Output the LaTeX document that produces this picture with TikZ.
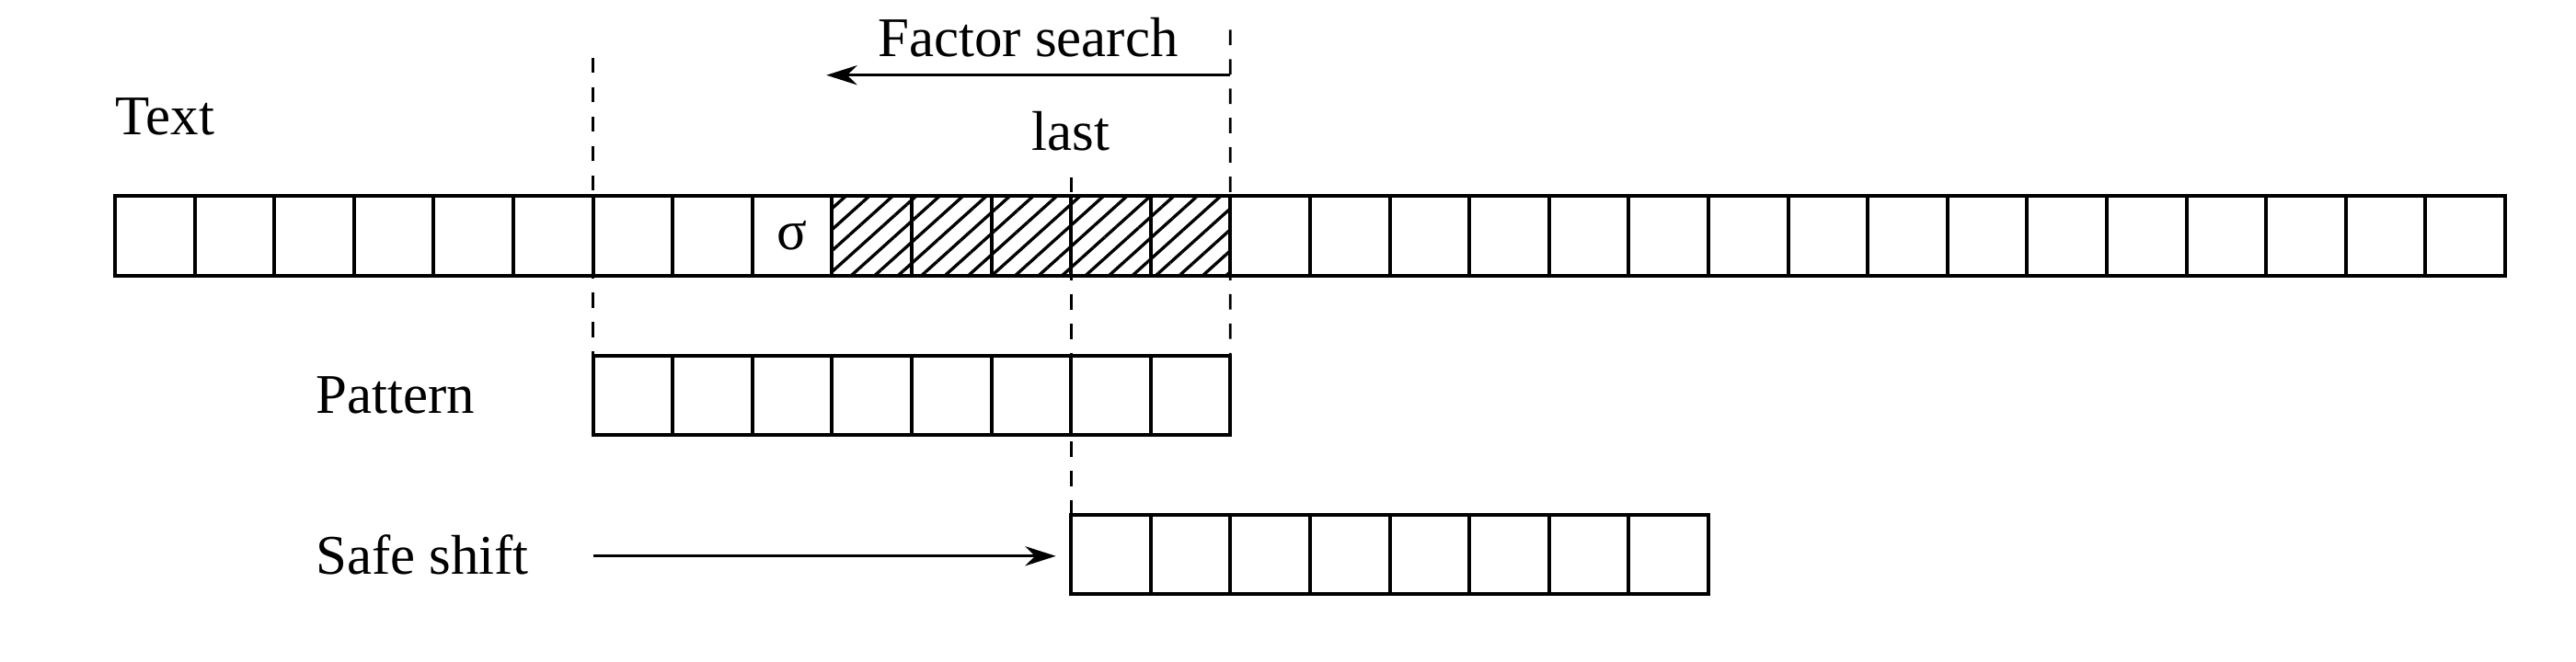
\documentclass[tikz,border=0pt]{standalone}
\usepackage{fontspec}
\setmainfont{Liberation Serif}
\usetikzlibrary{positioning}
\usetikzlibrary{arrows.meta,patterns.meta}

\begin{document}
\begin{tikzpicture}[
        cell/.style={draw,rectangle,minimum size=1cm,inner sep=0pt,outer sep=0pt,line width=1.3pt},
        hatched/.style={pattern={Lines[angle=42,distance=5.6pt,line width=1.1pt]}},
        guide/.style={dash pattern=on 5.5pt off 5pt,line width=0.9pt},
        lbl/.style={font=\fontsize{20}{24}\selectfont,inner sep=0pt},
        mover/.style={-{Stealth[length=11pt,width=7pt]},line width=0.9pt}]
        \useasboundingbox (-1.443,-4.85) rectangle (30.89,3.464);
        % text row
        \foreach \i in {9,...,13}
            \fill [hatched] (\i,0) rectangle (\i+1,1);
        \foreach \i in {0,...,29}
            \node (t\i) [cell] at (\i+0.5,0.5) {};
        \node (sigma) [lbl] at (t8) {σ};
        % pattern and its shifted copy
        \foreach \i in {0,...,7} {
            \node (p\i) [cell] at (\i+6.5,-1.5) {};
            \node (s\i) [cell] at (\i+12.5,-3.5) {};
        }
        \node (textlbl) [lbl,anchor=base west] at (0,1.77) {Text};
        \node (factor) [lbl,anchor=base west] at (9.57,2.75) {Factor search};
        \node (last) [lbl,anchor=base] at (12,1.58) {last};
        \node (patlbl) [lbl,left=1.48cm of p0] {Pattern};
        \node (shiftlbl) [lbl,anchor=west] at (patlbl.west |- s0) {Safe shift};
        % guide lines
        \coordinate (ltop) at (6,2.74);
        \coordinate (rtop) at (14,3.09);
        \coordinate (lasttop) at (12,1.24);
        \draw [guide] (ltop) -- (p0.north west);
        \draw [guide] (rtop) -- (p7.north east);
        \draw [guide] (lasttop) -- (s0.north west);
        % arrows
        \coordinate (fsstart) at (14,2.52);
        \coordinate (fsend) at (8.93,2.52);
        \draw [mover] (fsstart) -- (fsend);
        \coordinate (ssstart) at (6,-3.52);
        \coordinate (ssend) at (11.81,-3.52);
        \draw [mover] (ssstart) -- (ssend);
\end{tikzpicture}
\end{document}
